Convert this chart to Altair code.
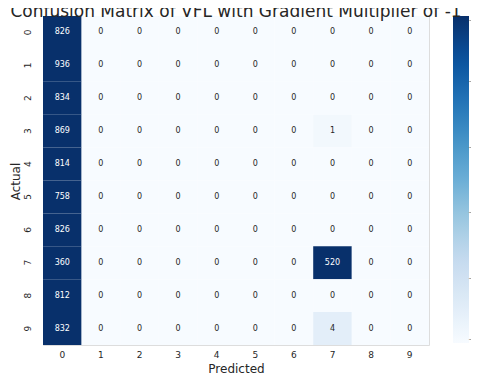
import altair as alt
import pandas as pd

labels = [str(i) for i in range(10)]
col0 = [826, 936, 834, 869, 814, 758, 826, 360, 812, 832]
col7 = [0, 0, 0, 1, 0, 0, 0, 520, 0, 4]

rows = []
for r in range(10):
    for c in range(10):
        if c == 0:
            v = col0[r]
        elif c == 7:
            v = col7[r]
        else:
            v = 0
        rows.append({"Actual": labels[r], "Predicted": labels[c], "value": v})
df = pd.DataFrame(rows)

blues = ["#f7fbff", "#deebf7", "#c6dbef", "#9ecae1", "#6baed6",
         "#4292c6", "#2171b5", "#08519c", "#08306b"]

base = alt.Chart(df).encode(
    x=alt.X("Predicted:O", sort=labels, title="Predicted",
            axis=alt.Axis(labelAngle=0, ticks=False, domain=False, labelFontSize=9,
                          labelColor="#262626", titleFontSize=12, titleColor="#262626",
                          titleFontWeight="normal", labelPadding=5, titlePadding=4,
                          labelFont="DejaVu Sans", titleFont="DejaVu Sans")),
    y=alt.Y("Actual:O", sort=labels, title="Actual",
            axis=alt.Axis(labelAngle=270, labelAlign="center", labelBaseline="bottom",
                          ticks=False, domain=False, labelFontSize=9,
                          labelColor="#262626", titleFontSize=12, titleColor="#262626",
                          titleFontWeight="normal", labelPadding=11,
                          titleX=-28, titleY=165, titleAngle=270, titleAlign="center",
                          titleBaseline="middle",
                          labelFont="DejaVu Sans", titleFont="DejaVu Sans")),
)

heat = base.mark_rect().encode(
    color=alt.Color("value:Q",
                    scale=alt.Scale(domain=[0, 40], range=blues, clamp=True),
                    legend=alt.Legend(title=None, orient="none", legendX=410, legendY=0,
                                      direction="vertical", gradientLength=327,
                                      gradientThickness=16, values=[0, 8, 16, 24, 32, 40],
                                      labelExpr="'–'", labelFontSize=8,
                                      labelColor="#555555", gradientStrokeWidth=0,
                                      labelOffset=0))
)

text = base.mark_text(fontSize=8, font="DejaVu Sans").encode(
    text="value:Q",
    color=alt.condition("datum.value > 20", alt.value("#ffffff"), alt.value("#262626")),
)

chart = (heat + text).properties(
    width=386, height=329,
    title=alt.TitleParams("Confusion Matrix of VFL with Gradient Multiplier of -1",
                          fontSize=17, font="DejaVu Sans", fontWeight="normal",
                          color="#262626", anchor="middle", offset=0, dy=5),
    autosize=alt.AutoSizeParams(type="none"),
    padding={"left": 35, "top": 8, "right": 42, "bottom": 30},
).configure_view(stroke=None).configure(background="white")

chart.save("out.html", embed_options={"renderer": "svg", "actions": False})
